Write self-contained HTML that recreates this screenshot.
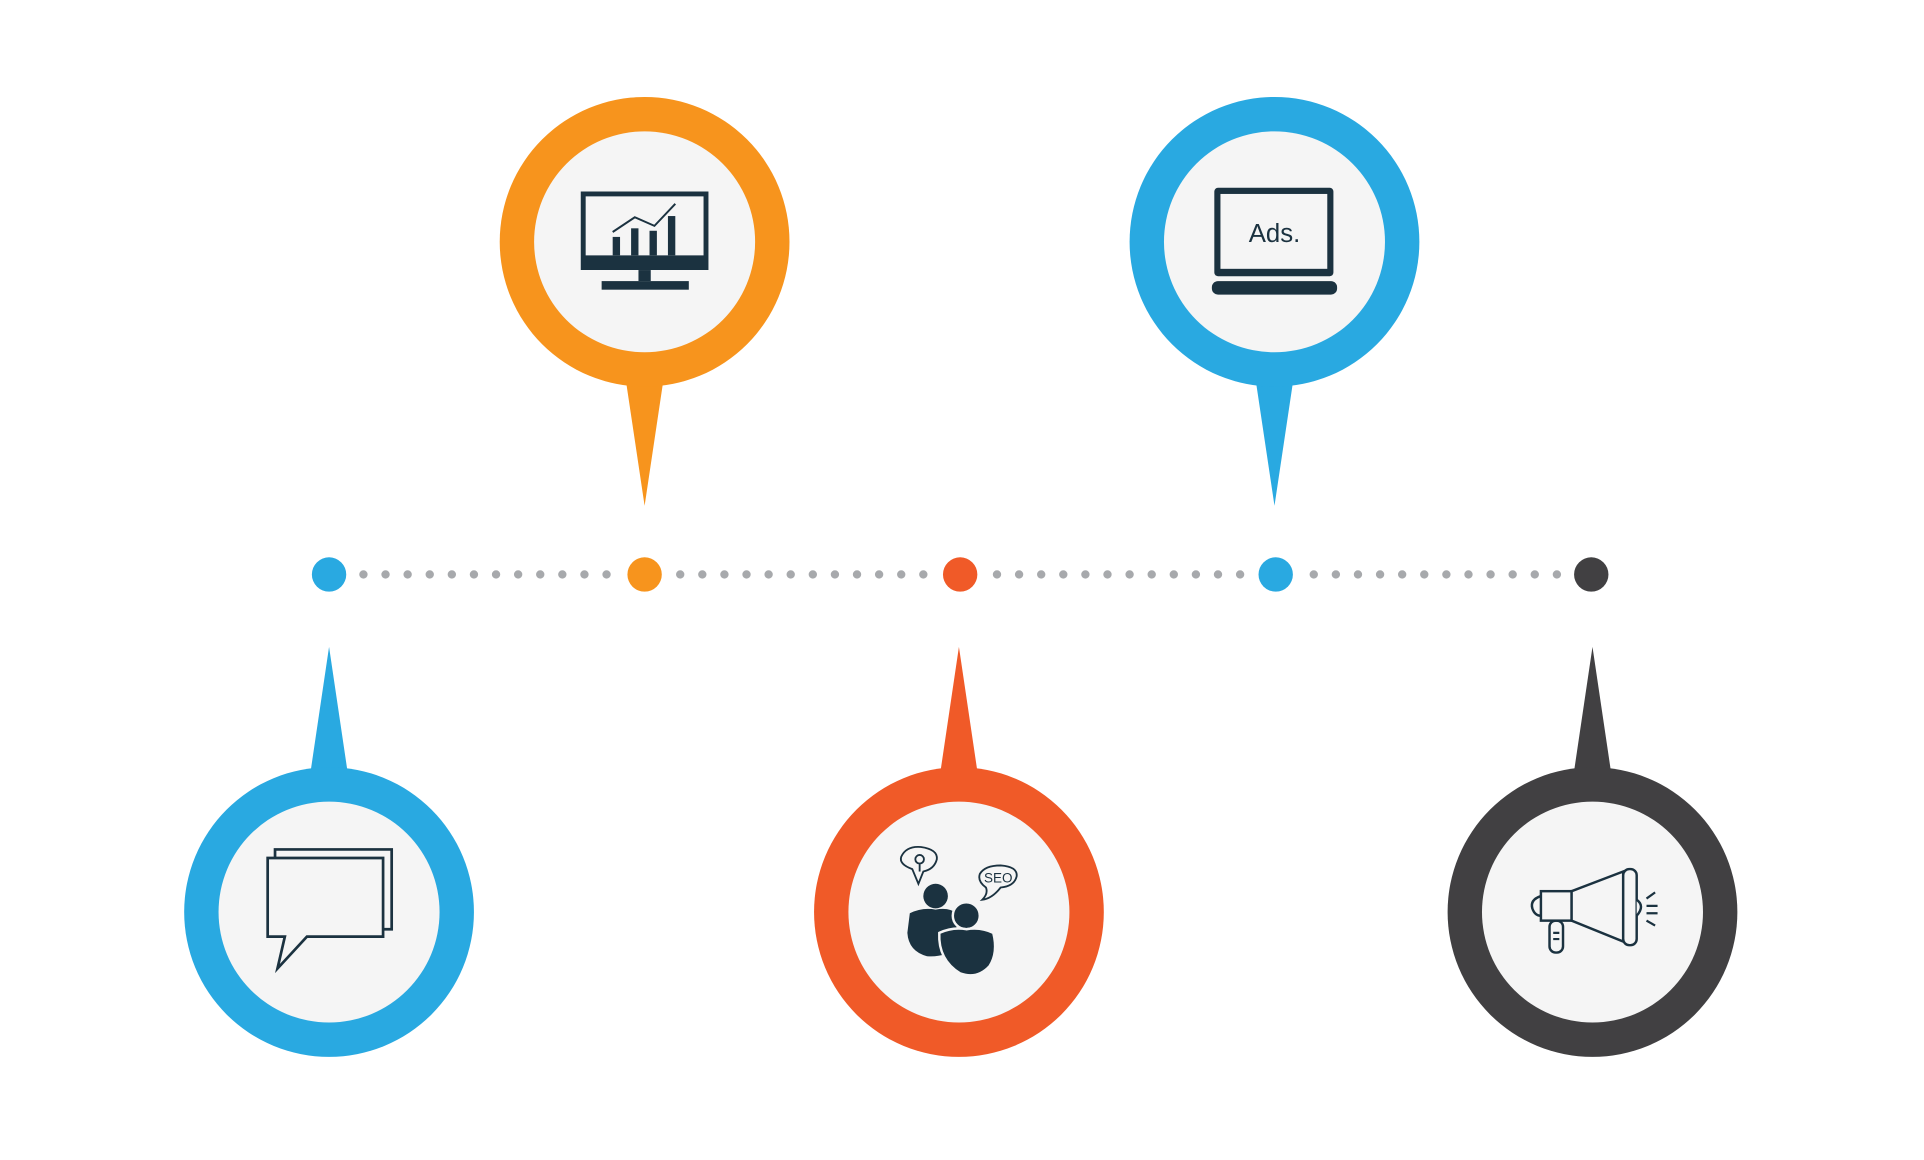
<!DOCTYPE html>
<html><head><meta charset="utf-8"><style>html,body{margin:0;padding:0;background:#fff}svg{display:block}</style></head>
<body>
<svg width="1924" height="1160" viewBox="0 0 1567 945" preserveAspectRatio="none" xmlns="http://www.w3.org/2000/svg">
<rect width="1567" height="945" fill="#fff"/>
<g fill="#A7A9AC">
<circle cx="296" cy="468" r="3.4"/><circle cx="314" cy="468" r="3.4"/><circle cx="332" cy="468" r="3.4"/><circle cx="350" cy="468" r="3.4"/><circle cx="368" cy="468" r="3.4"/><circle cx="386" cy="468" r="3.4"/><circle cx="404" cy="468" r="3.4"/><circle cx="422" cy="468" r="3.4"/><circle cx="440" cy="468" r="3.4"/><circle cx="458" cy="468" r="3.4"/><circle cx="476" cy="468" r="3.4"/><circle cx="494" cy="468" r="3.4"/>
<circle cx="554" cy="468" r="3.4"/><circle cx="572" cy="468" r="3.4"/><circle cx="590" cy="468" r="3.4"/><circle cx="608" cy="468" r="3.4"/><circle cx="626" cy="468" r="3.4"/><circle cx="644" cy="468" r="3.4"/><circle cx="662" cy="468" r="3.4"/><circle cx="680" cy="468" r="3.4"/><circle cx="698" cy="468" r="3.4"/><circle cx="716" cy="468" r="3.4"/><circle cx="734" cy="468" r="3.4"/><circle cx="752" cy="468" r="3.4"/>
<circle cx="812" cy="468" r="3.4"/><circle cx="830" cy="468" r="3.4"/><circle cx="848" cy="468" r="3.4"/><circle cx="866" cy="468" r="3.4"/><circle cx="884" cy="468" r="3.4"/><circle cx="902" cy="468" r="3.4"/><circle cx="920" cy="468" r="3.4"/><circle cx="938" cy="468" r="3.4"/><circle cx="956" cy="468" r="3.4"/><circle cx="974" cy="468" r="3.4"/><circle cx="992" cy="468" r="3.4"/><circle cx="1010" cy="468" r="3.4"/>
<circle cx="1070" cy="468" r="3.4"/><circle cx="1088" cy="468" r="3.4"/><circle cx="1106" cy="468" r="3.4"/><circle cx="1124" cy="468" r="3.4"/><circle cx="1142" cy="468" r="3.4"/><circle cx="1160" cy="468" r="3.4"/><circle cx="1178" cy="468" r="3.4"/><circle cx="1196" cy="468" r="3.4"/><circle cx="1214" cy="468" r="3.4"/><circle cx="1232" cy="468" r="3.4"/><circle cx="1250" cy="468" r="3.4"/><circle cx="1268" cy="468" r="3.4"/>
</g>
<circle cx="268" cy="468" r="14" fill="#29A9E1"/>
<circle cx="525" cy="468" r="14" fill="#F7941D"/>
<circle cx="782" cy="468" r="14" fill="#F05A28"/>
<circle cx="1039" cy="468" r="14" fill="#29A9E1"/>
<circle cx="1296" cy="468" r="14" fill="#414042"/>

<g fill="#F7941D"><polygon points="509,305 541,305 525,412"/><circle cx="525" cy="197" r="118"/></g>
<circle cx="525" cy="197" r="90" fill="#F5F5F5"/>
<g fill="#29A9E1"><polygon points="1022,305 1054,305 1038,412"/><circle cx="1038" cy="197" r="118"/></g>
<circle cx="1038" cy="197" r="90" fill="#F5F5F5"/>
<g fill="#29A9E1"><polygon points="268,527 252,635 284,635"/><circle cx="268" cy="743" r="118"/></g>
<circle cx="268" cy="743" r="90" fill="#F5F5F5"/>
<g fill="#F05A28"><polygon points="781,527 765,635 797,635"/><circle cx="781" cy="743" r="118"/></g>
<circle cx="781" cy="743" r="90" fill="#F5F5F5"/>
<g fill="#414042"><polygon points="1297,527 1281,635 1313,635"/><circle cx="1297" cy="743" r="118"/></g>
<circle cx="1297" cy="743" r="90" fill="#F5F5F5"/>

<g fill="#1B3240" stroke="none">
<path d="M473,156h104v64h-104z M477,160v48h96v-48z" fill-rule="evenodd"/>
<rect x="520" y="220" width="10" height="9"/>
<rect x="490" y="229" width="71" height="7"/>
<rect x="499" y="193" width="6" height="15"/><rect x="514" y="186" width="6" height="22"/><rect x="529" y="188" width="6" height="20"/><rect x="544" y="176" width="6" height="32"/>
<polyline points="499,189 517,177 533,184 550,166" fill="none" stroke="#1B3240" stroke-width="1.6"/>
<rect x="989" y="153" width="97" height="72" rx="3"/>
<rect x="994" y="158" width="87" height="61" fill="#F5F5F5"/>
<rect x="987" y="229" width="102" height="11" rx="5"/>
</g>
<text x="1038" y="197" text-anchor="middle" font-family="Liberation Sans, sans-serif" font-size="21" fill="#1B3240">Ads.</text>

<g fill="none" stroke="#1B3240" stroke-width="2.2">
<path d="M224,699V692H319V757H312"/>
<path d="M218,699H312V763H250L226,789L232,763H218Z" fill="#F5F5F5"/>
</g>

<g fill="#1B3240">
<circle cx="762" cy="730" r="10"/>
<path d="M741,744 Q751,739 762,741 Q773,739 779,744 L779,772 Q770,780 755,779 Q740,775 739,760 Z"/>
<circle cx="787" cy="746" r="11" stroke="#F5F5F5" stroke-width="2"/>
<path d="M765,760 Q776,755 787,757 Q799,755 809,760 Q813,776 806,787 Q796,798 782,793 Q764,782 765,760 Z" stroke="#F5F5F5" stroke-width="2"/>
</g>
<g fill="none" stroke="#1B3240" stroke-width="1.5">
<path d="M743,708 Q732,704 734,698 Q738,689 750,690 Q764,692 763,700 Q761,708 752,710 L748,720 Z"/>
<circle cx="749" cy="700" r="3.5"/>
<path d="M749,704v6"/>
<path d="M803,723 Q796,718 798,712 Q802,705 815,705 Q829,706 828,714 Q826,722 815,723 Q808,732 800,733 Q805,728 803,723 Z"/>
</g>
<text x="813" y="719" text-anchor="middle" font-family="Liberation Sans, sans-serif" font-size="11" fill="#1B3240">SEO</text>

<g fill="#F5F5F5" stroke="#1B3240" stroke-width="2">
<path d="M1255,730 Q1246,733 1248,740 Q1250,746 1255,746"/>
<rect x="1262" y="750" width="11" height="26" rx="5"/>
<rect x="1255" y="726" width="25" height="24"/>
<path d="M1280,726L1322,710V767L1280,750Z"/>
<rect x="1322" y="708" width="11" height="62" rx="5"/>
<path d="M1333,733 Q1340,738 1333,746"/>
</g>
<g stroke="#1B3240" stroke-width="1.8">
<path d="M1341,732L1348,727M1341,738H1350M1341,744H1350M1341,750L1348,754"/>
<path d="M1265,760h5M1265,765h5"/>
</g>
</svg>
</body></html>
